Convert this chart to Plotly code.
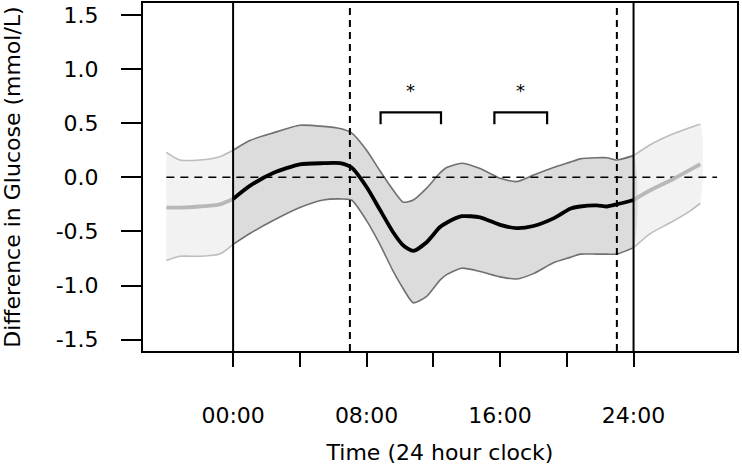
import plotly.graph_objects as go

# ---- data (hours relative to 00:00, glucose difference mmol/L) ----
hours = [0, 1, 2.4, 4, 5.4, 6.4, 7.1, 8, 8.8, 9.6, 10.2, 10.8, 11.6, 12.4, 12.8,
         13.7, 14.8, 16, 17, 18, 19.2, 20.2, 20.8, 21.8, 22.4, 23, 24]
mean = [-0.20, -0.08, 0.04, 0.12, 0.13, 0.13, 0.09, -0.09, -0.30, -0.51, -0.63, -0.68,
        -0.60, -0.46, -0.42, -0.36, -0.37, -0.44, -0.47, -0.45, -0.38, -0.29, -0.27,
        -0.26, -0.27, -0.25, -0.21]
upper = [0.25, 0.34, 0.41, 0.48, 0.47, 0.45, 0.41, 0.25, 0.06, -0.12, -0.23, -0.21,
         -0.10, 0.04, 0.09, 0.13, 0.08, -0.01, -0.04, 0.02, 0.09, 0.14, 0.17, 0.18,
         0.18, 0.16, 0.20]
lower = [-0.62, -0.52, -0.40, -0.28, -0.21, -0.20, -0.21, -0.40, -0.62, -0.87, -1.03,
         -1.16, -1.10, -0.95, -0.90, -0.84, -0.87, -0.92, -0.94, -0.89, -0.79, -0.74,
         -0.71, -0.71, -0.71, -0.71, -0.65]

left_hours = [-4, -3.2, -2, -0.8, 0]
left_mean = [-0.28, -0.28, -0.27, -0.25, -0.20]
left_upper = [0.23, 0.16, 0.16, 0.19, 0.25]
left_lower = [-0.77, -0.73, -0.73, -0.71, -0.62]

right_hours = [24, 25, 26.2, 27.4, 28]
right_mean = [-0.21, -0.12, -0.03, 0.07, 0.12]
right_upper = [0.20, 0.30, 0.39, 0.46, 0.49]
right_lower = [-0.65, -0.52, -0.42, -0.31, -0.24]

# significance brackets
br_start = [8.84, 15.66]
br_end = [12.46, 18.82]
br_top = 0.60
br_tip = 0.49
star_y = 0.80

solid_v = [0, 24]
dashed_v = [7, 23]
zero_span = [-4, 29]

tick_vals = [0, 4, 8, 12, 16, 20, 24]
tick_text = ["00:00", "", "08:00", "", "16:00", "", "24:00"]
y_ticks = [-1.5, -1.0, -0.5, 0.0, 0.5, 1.0, 1.5]

FONT = "DejaVu Sans"

fig = go.Figure()


def band(xs, lo, hi, fill, edge, mline, mcol):
    fig.add_trace(go.Scatter(x=xs + xs[::-1], y=hi + lo[::-1], fill="toself",
                             fillcolor=fill, line=dict(width=0, shape="spline",
                                                       smoothing=0.6),
                             mode="lines", hoverinfo="skip", showlegend=False))
    for yy in (hi, lo):
        fig.add_trace(go.Scatter(x=xs, y=yy, mode="lines",
                                 line=dict(color=edge, width=1.6, shape="spline",
                                           smoothing=0.6),
                                 showlegend=False, hoverinfo="skip"))
    return (xs, mline, mcol)


m1 = band(left_hours, left_lower, left_upper, "#f2f2f2", "#bdbdbd", left_mean, "#b8b8b8")
m2 = band(right_hours, right_lower, right_upper, "#f2f2f2", "#bdbdbd", right_mean, "#b8b8b8")
m3 = band(hours, lower, upper, "#dcdcdc", "#707070", mean, "#000000")

# zero reference line
fig.add_trace(go.Scatter(x=zero_span, y=[0, 0], mode="lines",
                         line=dict(color="black", width=1.5, dash="8px,6px"),
                         showlegend=False, hoverinfo="skip"))

for xs, ys, col in (m1, m2, m3):
    fig.add_trace(go.Scatter(x=xs, y=ys, mode="lines",
                             line=dict(color=col, width=3.8, shape="spline",
                                       smoothing=0.6),
                             showlegend=False))

# brackets
for s, e in zip(br_start, br_end):
    fig.add_trace(go.Scatter(x=[s, s, e, e], y=[br_tip, br_top, br_top, br_tip],
                             mode="lines", line=dict(color="black", width=2.2),
                             showlegend=False, hoverinfo="skip"))
    fig.add_annotation(x=(s + e) / 2, y=star_y, text="*", showarrow=False,
                       font=dict(family=FONT, size=18, color="black"),
                       xanchor="center", yanchor="middle")

for xv in solid_v:
    fig.add_shape(type="line", x0=xv, x1=xv, y0=0, y1=1, xref="x", yref="paper",
                  line=dict(color="black", width=2), layer="above")
for xv in dashed_v:
    fig.add_shape(type="line", x0=xv, x1=xv, y0=0, y1=1, xref="x", yref="paper",
                  line=dict(color="black", width=2, dash="7px,5px"), layer="above")

fig.update_layout(
    width=742, height=468,
    margin=dict(l=143, r=5, t=3, b=117, autoexpand=False),
    paper_bgcolor="white", plot_bgcolor="white",
    font=dict(family=FONT, size=22, color="black"),
    showlegend=False,
)
fig.update_xaxes(range=[-5.4, 30.2], tickvals=tick_vals, ticktext=tick_text,
                 ticks="outside", ticklen=14, tickwidth=2, tickcolor="black",
                 showgrid=False, zeroline=False, showline=True, linecolor="black",
                 linewidth=2, mirror=True, ticklabelstandoff=30, automargin=False,
                 tickfont=dict(family=FONT, size=22, color="black"),
                 title=dict(text="Time (24 hour clock)", standoff=17,
                            font=dict(family=FONT, size=22, color="black")))
fig.update_yaxes(range=[-1.605, 1.61], tickvals=y_ticks,
                 ticktext=[f"{v:.1f}" for v in y_ticks],
                 ticks="outside", ticklen=20, tickwidth=2, tickcolor="black",
                 showgrid=False, zeroline=False, showline=True, linecolor="black",
                 linewidth=2, mirror=True, ticklabelstandoff=18, automargin=False,
                 tickfont=dict(family=FONT, size=22, color="black"),
                 title=dict(text="Difference in Glucose (mmol/L)", standoff=38,
                            font=dict(family=FONT, size=22, color="black")))

fig.write_html("out.html", config={"displayModeBar": False},
               post_script="document.body.style.margin='0';document.body.style.padding='0';")
